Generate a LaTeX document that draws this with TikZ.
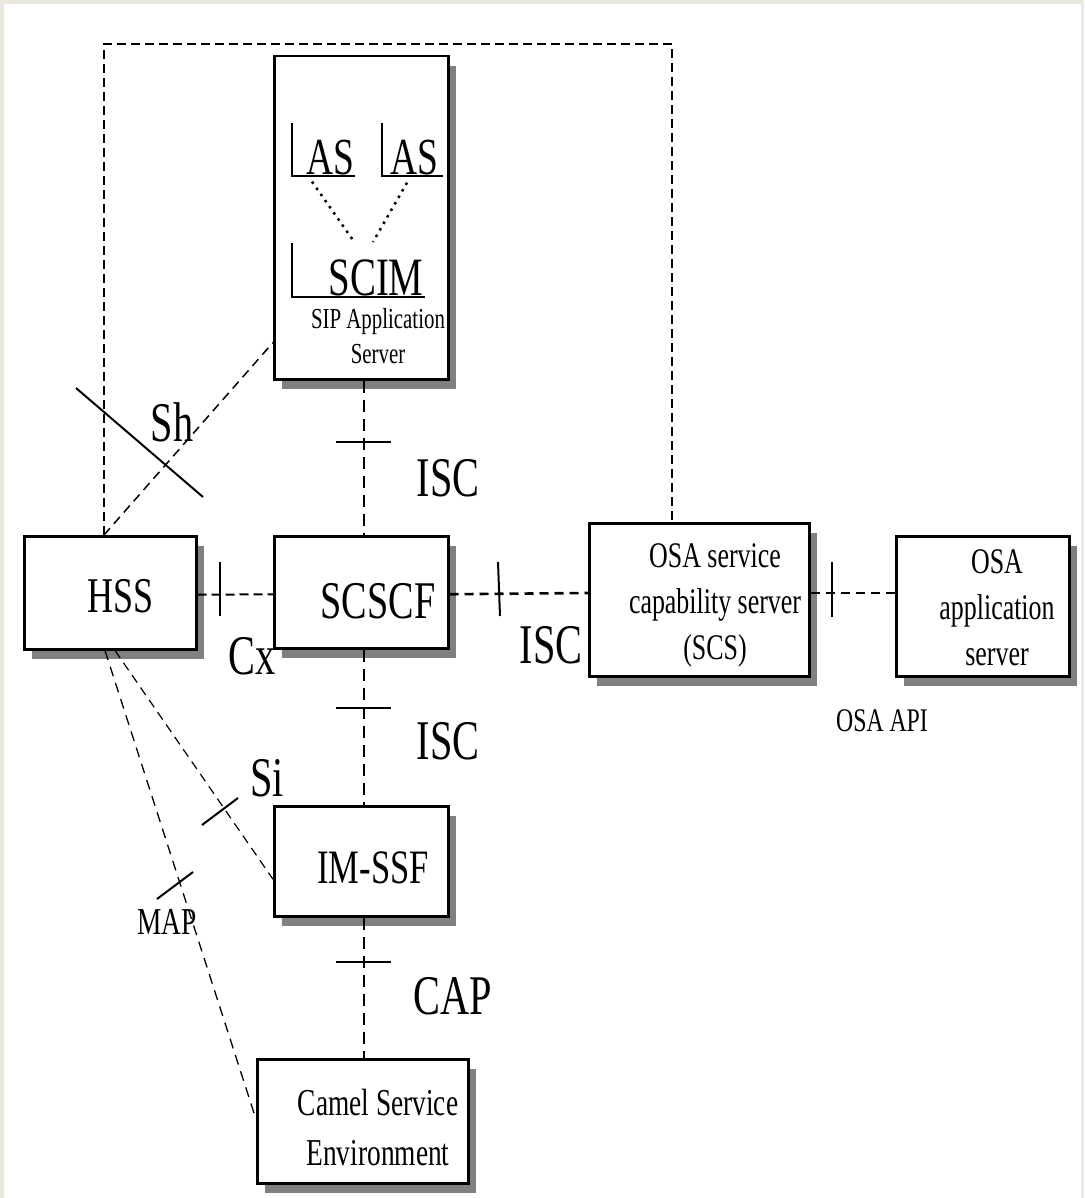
\documentclass[tikz,border=0pt]{standalone}
\usepackage{fontspec}
\setmainfont{Liberation Serif}
\newfontfamily\tnr[FakeStretch=0.72]{Liberation Serif}
\usetikzlibrary{calc,shadows,positioning}
\definecolor{pagebg}{RGB}{233,231,222}
\definecolor{shade}{RGB}{128,128,128}
\newcommand{\tsize}[2]{\tnr\fontsize{#1}{#2}\selectfont}

\begin{document}
\begin{tikzpicture}[x=1pt,y=-1pt,
  box/.style={draw,line width=2.5pt,fill=white,anchor=north west,inner sep=0pt,
    drop shadow={shadow xshift=8pt,shadow yshift=-10pt,fill=shade,opacity=1}},
  link/.style={line width=1.4pt,dash pattern=on 12pt off 7pt},
  thinlink/.style={line width=1.2pt,dash pattern=on 9pt off 6pt},
  fatlink/.style={line width=2.6pt,dash pattern=on 9pt off 6pt},
  frame/.style={line width=2.2pt,dash pattern=on 9pt off 5pt},
  dots/.style={line width=2.5pt,dash pattern=on 2.5pt off 5pt},
  tick/.style={line width=2pt},
  ifname/.style={font=\tsize{56}{60},inner sep=0pt}]
  % ---------------- page ----------------
  \fill[pagebg] (0,0) rectangle (1084,1198);
  \fill[white] (4,4) rectangle (1081,1198);
  \useasboundingbox (0,0) rectangle (1084,1198);

  % ---------------- boxes ----------------
  \node[box,minimum width=174,minimum height=323] (sip)   at (273,55)   {};
  \node[box,minimum width=172,minimum height=113] (hss)   at (23,535)   {};
  \node[box,minimum width=174,minimum height=112] (scscf) at (273,535)  {};
  \node[box,minimum width=220,minimum height=153] (scs)   at (588,522)  {};
  \node[box,minimum width=173,minimum height=140] (app)   at (895,535)  {};
  \node[box,minimum width=174,minimum height=110] (imssf) at (273,805)  {};
  \node[box,minimum width=211,minimum height=124] (camel) at (256,1058) {};

  % texts inside the boxes
  \node[font=\tsize{52}{56},inner sep=0pt] (las1) at (330,158) {AS};
  \node[font=\tsize{52}{56},inner sep=0pt] (las2) at (414,158) {AS};
  \node[font=\tsize{54}{58},inner sep=0pt,text depth=0pt,anchor=base] (scim) at (376,295) {SCIM};
  \draw[line width=2.5pt] (292,123) |- (355,176);
  \draw[line width=2.5pt] (382,123) |- (443,176);
  \draw[line width=2.5pt] (292,243) |- (425,297);
  \draw[dots] ($(las1.south)+(-18,6)$) -- (355,243);
  \draw[dots] ($(las2.south)+(-7,7)$) -- (373,242);
  \node[font=\tsize{29}{35},inner sep=0pt,align=center] (siptxt) at (378,336)
    {SIP Application\\Server};
  \node[font=\tsize{50}{54},inner sep=0pt] (hsstxt) at (121,596) {HSS};
  \node[font=\tsize{53}{56},inner sep=0pt] (scscftxt) at (378,601) {SCSCF};
  \node[font=\tsize{48}{52},inner sep=0pt] (imssftxt) at (373,868) {IM-SSF};
  \node[font=\tsize{36}{46},inner sep=0pt,align=center] (scstxt) at (715,605)
    {OSA service\\capability server\\(SCS)};
  \node[font=\tsize{36}{46},inner sep=0pt,align=center] (apptxt) at (997,608)
    {OSA\\application\\server};
  \node[font=\tsize{38}{50},inner sep=0pt,align=center] (cameltxt) at (378,1127)
    {Camel Service\\Environment};

  % ---------------- dashed links ----------------
  \coordinate (trunk) at (364,0);
  \coordinate (frameNE) at (672,44);
  \draw[frame] ($(hss.north west)+(81,0)$) |- (frameNE) -- (scs.north -| frameNE);
  \draw[link] (sip.south -| trunk) -- (scscf.north -| trunk);
  \draw[link] (scscf.south -| trunk) -- (imssf.north -| trunk);
  \draw[link] (imssf.south -| trunk) -- (camel.north -| trunk);
  \draw[line width=2pt,dash pattern=on 9pt off 5pt]
    ($(hss.east)+(0,2)$) -- ($(scscf.west)+(0,2)$);
  \draw[fatlink] ($(scscf.east)+(0,2)$) -- (scs.west |- 0,593);
  \draw[line width=2pt,dash pattern=on 9pt off 6pt]
    (scs.east |- 0,593) -- (app.west |- 0,593);
  \draw[thinlink,line width=1.5pt] ($(hss.north west)+(81,0)$) -- ($(sip.south west)+(0,-38)$);
  \draw[thinlink] ($(hss.south west)+(92,0)$) -- ($(imssf.west)+(0,18)$);
  \draw[link,line width=1.3pt,dash pattern=on 10pt off 7pt]
    ($(hss.south west)+(82,0)$) -- ($(camel.west)+(0,-2)$);

  % ---------------- crossing ticks ----------------
  \draw[tick] (336,442) -- (391,442);
  \draw[tick] (336,708) -- (391,708);
  \draw[tick] (336,962) -- (391,962);
  \draw[tick] (220,562) -- (220,616);
  \draw[tick] (498,562) -- (500,616);
  \draw[tick] (832,562) -- (832,617);
  \draw[tick] (76,388) -- (203,497);
  \draw[tick] (202,825) -- (238,798);
  \draw[tick] (157,899) -- (193,872);

  % ---------------- interface names ----------------
  \node[ifname] (lblSh)   at (172,422)  {Sh};
  \node[ifname] (lblIsc1) at (448,478)  {ISC};
  \node[ifname] (lblCx)   at (252,656)  {Cx};
  \node[ifname] (lblIsc2) at (551,645)  {ISC};
  \node[ifname] (lblIsc3) at (448,741)  {ISC};
  \node[ifname] (lblSi)   at (267,778)  {Si};
  \node[ifname] (lblCap)  at (453,996)  {CAP};
  \node[font=\tsize{38}{40},inner sep=0pt] (lblMap) at (167,922) {MAP};
  \node[font=\tsize{33}{36},inner sep=0pt] (lblApi) at (882,721) {OSA API};
\end{tikzpicture}
\end{document}
